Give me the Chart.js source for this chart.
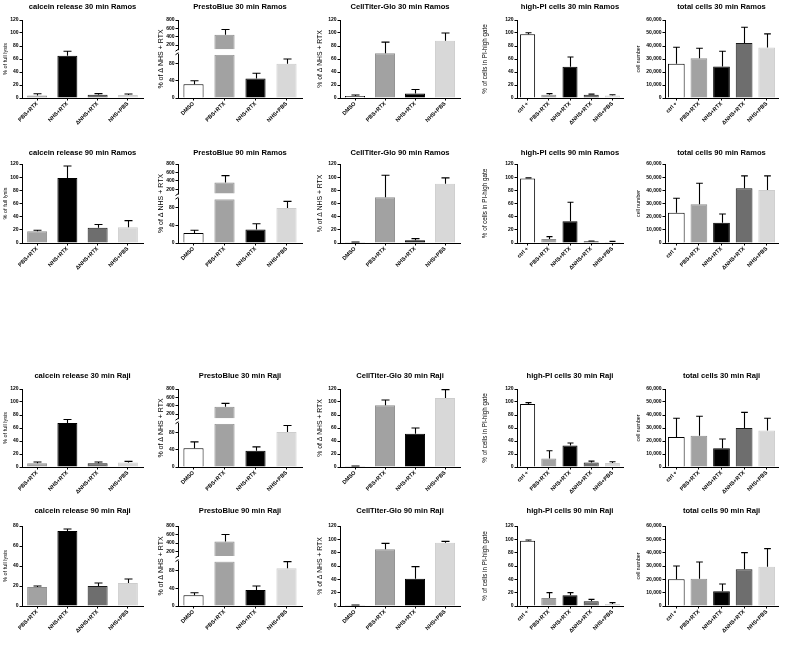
<!DOCTYPE html>
<html><head><meta charset="utf-8">
<script src="https://cdn.jsdelivr.net/npm/chart.js@4.4.1/dist/chart.umd.min.js"></script>
<style>
body{margin:0;background:#fff;width:788px;height:646px;position:relative;overflow:hidden}
canvas{position:absolute}
</style></head><body>
<script>
// ---------- categories ----------
const CAT_LYSIS = ['PBS+RTX','NHS+RTX','ΔNHS+RTX','NHS+PBS'];
const CAT_VIAB  = ['DMSO','PBS+RTX','NHS+RTX','NHS+PBS'];
const CAT_FLOW  = ['ctrl +','PBS+RTX','NHS+RTX','ΔNHS+RTX','NHS+PBS'];

// ---------- tick labels ----------
const TICKS_120   = [0,20,40,60,80,100,120];
const TICKS_80    = [0,20,40,60,80];
const TICKS_LOW   = [0,20,40,60,80,100];
const TICKS_HIGH  = [200,400,600,800];
const TICKS_CELLS = [0,10000,20000,30000,40000,50000,60000];

// ---------- values (mean) and error-bar tops (mean + SD) ----------
// 30 min Ramos
const calcein30Ramos    = [4, 65, 5, 4.6];
const calcein30RamosErr = [6.5, 72, 6.7, 6.2];
const presto30Ramos     = [31.6, 447, 45, 79];
const presto30RamosErr  = [40, 572, 57, 90];
const ctg30Ramos        = [3, 69, 7, 88];
const ctg30RamosErr     = [4.6, 86, 13, 100];
const pi30Ramos         = [98, 5, 48, 5, 4];
const pi30RamosErr      = [100.5, 6.7, 63, 6, 5];
const cells30Ramos      = [26300, 30600, 24300, 42400, 38800];
const cells30RamosErr   = [39000, 38300, 36000, 54400, 49300];
// 90 min Ramos
const calcein90Ramos    = [18, 98.6, 23, 24];
const calcein90RamosErr = [19.4, 117, 28, 34];
const presto90Ramos     = [23, 360, 31, 80];
const presto90RamosErr  = [29, 525, 44, 95];
const ctg90Ramos        = [1, 69.6, 4, 90];
const ctg90RamosErr     = [1.5, 103, 6.6, 99];
const pi90Ramos         = [98, 6, 33, 2.5, 1.5];
const pi90RamosErr      = [99, 9.7, 62, 3, 2.5];
const cells90Ramos      = [23000, 29400, 15300, 41600, 40300];
const cells90RamosErr   = [34000, 45400, 22000, 51000, 51000];
// 30 min Raji
const calcein30Raji     = [5.6, 67.7, 5.6, 7];
const calcein30RajiErr  = [7.7, 73, 7.7, 8.7];
const presto30Raji      = [43.6, 377, 37.6, 81];
const presto30RajiErr   = [58, 455, 46.6, 96];
const ctg30Raji         = [1, 95, 51, 106];
const ctg30RajiErr      = [1.5, 103, 60, 119];
const pi30Raji          = [97, 13, 33, 7, 6];
const pi30RajiErr       = [99, 25, 37, 9, 8];
const cells30Raji       = [23000, 24000, 14500, 30000, 28000];
const cells30RajiErr    = [37500, 39000, 21500, 42000, 37500];
// 90 min Raji
const calcein90Raji     = [19, 75, 20, 23];
const calcein90RajiErr  = [20, 77, 23, 27];
const presto90Raji      = [24, 440, 36, 85];
const presto90RajiErr   = [30, 600, 45, 100];
const ctg90Raji         = [1, 85, 41, 95];
const ctg90RajiErr      = [1.5, 94, 59, 97];
const pi90Raji          = [98, 12, 16, 7, 3];
const pi90RajiErr       = [99, 20, 20, 10, 5];
const cells90Raji       = [20000, 20500, 11000, 27500, 29500];
const cells90RajiErr    = [30000, 33000, 16500, 40000, 43000];

// ---------- titles ----------
const Y_TITLES = ['% of full lysis', '% of Δ NHS + RTX', '% of Δ NHS + RTX', '% of cells in PI-high gate', 'cell number'];
const ROW_SUFFIX = ['30 min Ramos', '90 min Ramos', '30 min Raji', '90 min Raji'];
const COL_PREFIX = ['calcein release', 'PrestoBlue', 'CellTiter-Glo', 'high-PI cells', 'total cells'];

// ---------- layout / style ----------
const FONT = '"Liberation Sans", Arial, Helvetica, sans-serif';
const COL_AXIS  = [22, 178, 340, 517, 665];
const COL_RIGHT = [143, 302, 460, 623, 778];
const COL_YW    = [21, 22, 25, 37, 31];
const COL_YT_SIZE = [5.5, 7, 6.8, 6.3, 5.2];
const COL_BARPCT = [0.66, 0.65, 0.67, 0.71, 0.74];
const ROW_TITLE = [6.5, 152.5, 375.5, 511];
const ROW_TOP   = [20, 164, 389, 526];
const ROW_ZERO  = [98, 243, 467, 606];
const TITLE_SIZE = 7.6, TITLE_LH = TITLE_SIZE * 1.2;
const X_H = 30, PAD_R = 3;
const FILL = {'PBS+RTX':'#a2a2a2','NHS+RTX':'#000000','ΔNHS+RTX':'#6e6e6e','NHS+PBS':'#d8d8d8','DMSO':'#ffffff','ctrl +':'#ffffff'};
const EDGE = {'PBS+RTX':'#8e8e8e','NHS+RTX':'#000000','ΔNHS+RTX':'#1a1a1a','NHS+PBS':'#cdcdcd','DMSO':'#000000','ctrl +':'#000000'};

Chart.defaults.color = '#000';
Chart.defaults.font.family = FONT;

const errorBarPlugin = {
  id: 'errbars',
  afterDatasetsDraw(chart, args, opts) {
    const tops = opts.tops, vals = opts.values;
    if (!tops) return;
    const brk = opts.breakAt;
    const m0 = chart.getDatasetMeta(0);
    const m1 = brk ? chart.getDatasetMeta(1) : null;
    const ctx = chart.ctx;
    ctx.save();
    ctx.strokeStyle = '#000';
    ctx.lineWidth = 1.1;
    tops.forEach((e, i) => {
      const el = m0.data[i];
      let topY, sc, ev = e;
      if (brk && vals[i] > brk) { topY = m1.data[i].y; sc = chart.scales.yHigh; }
      else { topY = el.y; sc = chart.scales.y; if (brk) ev = Math.min(e, brk); }
      const ey = sc.getPixelForValue(ev);
      const x = Math.round(el.x) + 0.5, hw = el.width * 0.2;
      ctx.beginPath();
      ctx.moveTo(x, topY); ctx.lineTo(x, ey);
      ctx.moveTo(x - hw, ey); ctx.lineTo(x + hw, ey);
      ctx.stroke();
    });
    ctx.restore();
  }
};

const breakPlugin = {
  id: 'axisbreak',
  afterDraw(chart, args, opts) {
    if (!opts.at) return;
    const lo = chart.scales.y, hi = chart.scales.yHigh, ca = chart.chartArea, ctx = chart.ctx;
    const yT = hi.getPixelForValue(opts.at);
    const yB = lo.top;
    const ax = lo.right;
    ctx.save();
    ctx.fillStyle = '#fff';
    ctx.fillRect(ax - 2, yT + 1, 4, yB - yT - 2);
    ctx.strokeStyle = '#000';
    ctx.lineWidth = 1;
    ctx.beginPath();
    ctx.moveTo(ax - 2.5, yT + 2); ctx.lineTo(ax + 0.5, yT);
    ctx.moveTo(ax - 2.5, yB + 0); ctx.lineTo(ax + 0.5, yB - 2);
    ctx.stroke();
    ctx.font = opts.titleSize + 'px ' + FONT;
    ctx.fillStyle = '#000';
    ctx.textAlign = 'center';
    ctx.textBaseline = 'middle';
    ctx.translate(lo.left + 1 + opts.titleSize * 0.6, (ca.top + ca.bottom) / 2);
    ctx.rotate(-Math.PI / 2);
    ctx.fillText(opts.title, 0, 0);
    ctx.restore();
  }
};

function setTicks(arr) { return s => { s.ticks = arr.map(v => ({ value: v })); }; }

function addPanel(row, col, cats, vals, errs, ticks, broken) {
  const yw = COL_YW[col];
  const left = COL_AXIS[col] - yw;
  const top = Math.round(ROW_TITLE[row] - TITLE_LH / 2);
  const w = COL_RIGHT[col] + PAD_R - left;
  const h = ROW_ZERO[row] + X_H - top;
  const padB = ROW_TOP[row] - top - TITLE_LH;
  const cv = document.createElement('canvas');
  cv.width = w; cv.height = h;
  cv.style.left = left + 'px'; cv.style.top = top + 'px';
  cv.style.width = w + 'px'; cv.style.height = h + 'px';
  document.body.appendChild(cv);

  const tickFont = { size: 5, weight: 'bold', family: FONT };
  const gridY = { drawOnChartArea: false, drawTicks: true, tickLength: 2.5, color: '#000', lineWidth: 1 };
  const fitW = s => { s.width = yw; };
  const fills = cats.map(c => FILL[c]), edges = cats.map(c => EDGE[c]);
  const bp = COL_BARPCT[col];
  const LOW_MAX = TICKS_LOW[TICKS_LOW.length - 1];

  const scales = {
    x: {
      type: 'category', offset: true,
      grid: { offset: false, drawOnChartArea: false, drawTicks: true, tickLength: 2.5, color: '#000', lineWidth: 1 },
      border: { display: true, color: '#000', width: 1 },
      ticks: { font: { size: 5.5, weight: 'bold', family: FONT }, color: '#000', minRotation: 45, maxRotation: 45, padding: 0, autoSkip: false },
      afterFit: s => { s.height = X_H; }
    }
  };
  let datasets;
  if (!broken) {
    scales.y = {
      type: 'linear', position: 'left', min: ticks[0], max: ticks[ticks.length - 1],
      grid: gridY, border: { display: true, color: '#000', width: 1 },
      ticks: { font: tickFont, color: '#000', padding: 1 },
      afterBuildTicks: setTicks(ticks),
      title: { display: true, text: Y_TITLES[col], font: { size: COL_YT_SIZE[col], family: FONT }, color: '#000', padding: { top: 1, bottom: 0 } },
      afterFit: fitW
    };
    datasets = [{ data: vals, backgroundColor: fills, borderColor: edges, borderWidth: 1, barPercentage: bp, categoryPercentage: 1 }];
  } else {
    scales.y = {
      type: 'linear', axis: 'y', position: 'left', stack: 'brk', stackWeight: 0.555, weight: 0,
      min: TICKS_LOW[0], max: LOW_MAX,
      grid: gridY, border: { display: true, color: '#000', width: 1 },
      ticks: { font: tickFont, color: '#000', padding: 1 },
      afterBuildTicks: setTicks(TICKS_LOW), afterFit: fitW
    };
    scales.yHigh = {
      type: 'linear', axis: 'y', position: 'left', stack: 'brk', stackWeight: 0.445, weight: 1,
      min: -33, max: TICKS_HIGH[TICKS_HIGH.length - 1],
      grid: gridY, border: { display: true, color: '#000', width: 1 },
      ticks: { font: tickFont, color: '#000', padding: 1 },
      afterBuildTicks: setTicks(TICKS_HIGH), afterFit: fitW
    };
    datasets = [
      { data: vals.map(v => Math.min(v, LOW_MAX)), yAxisID: 'y', grouped: false, backgroundColor: fills, borderColor: edges, borderWidth: 1, barPercentage: bp, categoryPercentage: 1 },
      { data: vals.map(v => v > LOW_MAX ? [LOW_MAX, v] : null), yAxisID: 'yHigh', grouped: false, backgroundColor: fills, borderColor: edges, borderWidth: 1, borderSkipped: 'start', barPercentage: bp, categoryPercentage: 1 }
    ];
  }

  new Chart(cv, {
    type: 'bar',
    data: { labels: cats, datasets },
    options: {
      responsive: false, animation: false, devicePixelRatio: 1, events: [],
      layout: { padding: { left: 0, right: PAD_R, top: 0, bottom: 0 } },
      scales,
      plugins: {
        legend: { display: false }, tooltip: { enabled: false },
        title: { display: true, fullSize: false, text: COL_PREFIX[col] + ' ' + ROW_SUFFIX[row], color: '#000',
                 font: { size: TITLE_SIZE, weight: 'bold', family: FONT, lineHeight: 1.2 }, padding: { top: 0, bottom: padB } },
        errbars: { values: vals, tops: errs, breakAt: broken ? LOW_MAX : 0 },
        axisbreak: { at: broken ? LOW_MAX : 0, title: Y_TITLES[col], titleSize: COL_YT_SIZE[col] }
      }
    },
    plugins: [errorBarPlugin, breakPlugin]
  });
}

// row 0: 30 min Ramos
addPanel(0, 0, CAT_LYSIS, calcein30Ramos, calcein30RamosErr, TICKS_120, false);
addPanel(0, 1, CAT_VIAB, presto30Ramos, presto30RamosErr, null, true);
addPanel(0, 2, CAT_VIAB, ctg30Ramos, ctg30RamosErr, TICKS_120, false);
addPanel(0, 3, CAT_FLOW, pi30Ramos, pi30RamosErr, TICKS_120, false);
addPanel(0, 4, CAT_FLOW, cells30Ramos, cells30RamosErr, TICKS_CELLS, false);
// row 1: 90 min Ramos
addPanel(1, 0, CAT_LYSIS, calcein90Ramos, calcein90RamosErr, TICKS_120, false);
addPanel(1, 1, CAT_VIAB, presto90Ramos, presto90RamosErr, null, true);
addPanel(1, 2, CAT_VIAB, ctg90Ramos, ctg90RamosErr, TICKS_120, false);
addPanel(1, 3, CAT_FLOW, pi90Ramos, pi90RamosErr, TICKS_120, false);
addPanel(1, 4, CAT_FLOW, cells90Ramos, cells90RamosErr, TICKS_CELLS, false);
// row 2: 30 min Raji
addPanel(2, 0, CAT_LYSIS, calcein30Raji, calcein30RajiErr, TICKS_120, false);
addPanel(2, 1, CAT_VIAB, presto30Raji, presto30RajiErr, null, true);
addPanel(2, 2, CAT_VIAB, ctg30Raji, ctg30RajiErr, TICKS_120, false);
addPanel(2, 3, CAT_FLOW, pi30Raji, pi30RajiErr, TICKS_120, false);
addPanel(2, 4, CAT_FLOW, cells30Raji, cells30RajiErr, TICKS_CELLS, false);
// row 3: 90 min Raji
addPanel(3, 0, CAT_LYSIS, calcein90Raji, calcein90RajiErr, TICKS_80, false);
addPanel(3, 1, CAT_VIAB, presto90Raji, presto90RajiErr, null, true);
addPanel(3, 2, CAT_VIAB, ctg90Raji, ctg90RajiErr, TICKS_120, false);
addPanel(3, 3, CAT_FLOW, pi90Raji, pi90RajiErr, TICKS_120, false);
addPanel(3, 4, CAT_FLOW, cells90Raji, cells90RajiErr, TICKS_CELLS, false);
</script>
</body></html>
